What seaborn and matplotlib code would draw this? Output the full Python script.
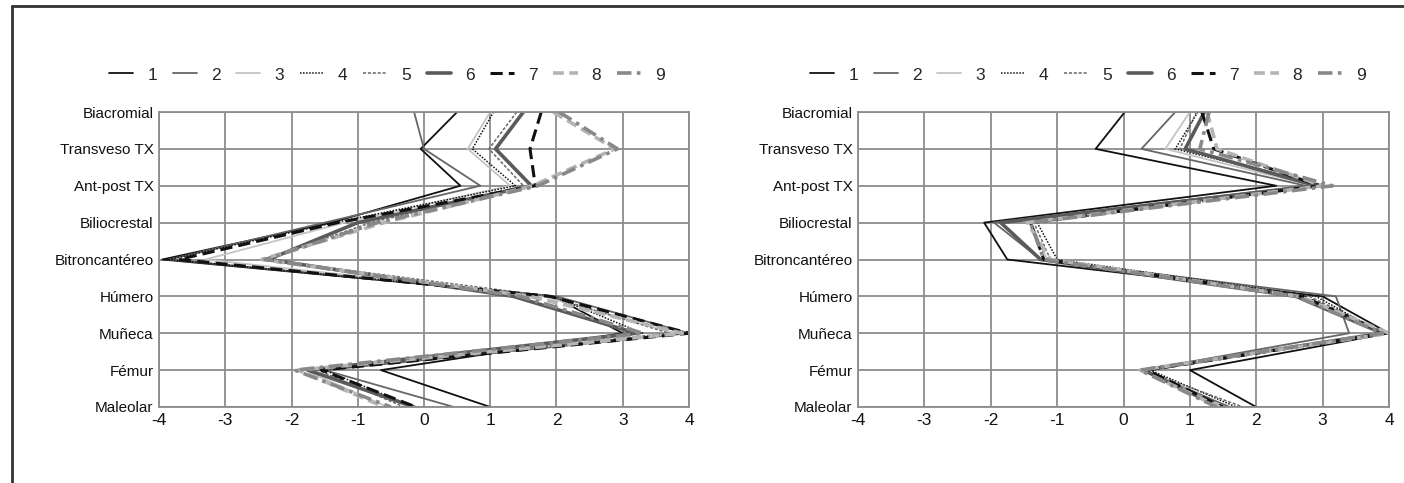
import matplotlib
matplotlib.use("Agg")
import matplotlib.pyplot as plt
import matplotlib.lines as mlines
import numpy as np
import pandas as pd
import seaborn as sns

# Body measurements (rows, top to bottom)
measures = ["Biacromial", "Transveso TX", "Ant-post TX", "Biliocrestal",
            "Bitroncantéreo", "Húmero", "Muñeca", "Fémur", "Maleolar"]
series_names = ["1", "2", "3", "4", "5", "6", "7", "8", "9"]
x_ticks = [-4, -3, -2, -1, 0, 1, 2, 3, 4]

# Left panel: values per series, one value per measurement
left_1 = [0.5, -0.05, 0.55, -1.4, -3.95, 1.95, 3.0, -0.65, 1.0]
left_2 = [-0.15, 0.0, 0.85, -1.5, -3.85, 2.0, 4.0, -1.5, 0.45]
left_3 = [1.0, 0.66, 1.3, -1.2, -3.3, 1.8, 3.8, -1.8, -0.55]
left_4 = [1.05, 0.73, 1.38, -1.35, -3.85, 1.95, 3.3, -1.5, -0.15]
left_5 = [1.4, 0.98, 1.5, -0.8, -2.4, 1.9, 3.7, -1.6, -0.3]
left_6 = [1.5, 1.08, 1.62, -1.0, -2.35, 1.35, 3.2, -1.75, -0.15]
left_7 = [1.77, 1.6, 1.68, -1.3, -3.7, 1.9, 4.0, -1.55, -0.12]
left_8 = [1.95, 2.88, 1.64, -0.6, -2.45, 1.6, 3.9, -1.9, -0.6]
left_9 = [2.04, 2.92, 1.72, -0.7, -2.4, 1.45, 3.3, -1.95, -0.5]

# Right panel
right_1 = [0.02, -0.42, 2.3, -2.1, -1.75, 3.0, 4.0, 1.0, 2.0]
right_2 = [0.78, 0.27, 2.75, -1.95, -1.25, 3.2, 3.4, 0.3, 1.6]
right_3 = [1.0, 0.63, 2.85, -1.4, -1.15, 2.7, 3.95, 0.35, 1.5]
right_4 = [1.12, 0.78, 3.0, -1.3, -1.0, 2.9, 3.9, 0.4, 1.7]
right_5 = [1.1, 0.85, 3.05, -1.35, -1.1, 2.8, 3.95, 0.3, 1.8]
right_6 = [1.22, 0.93, 2.9, -1.85, -1.25, 2.6, 3.9, 0.3, 1.45]
right_7 = [1.18, 1.36, 2.95, -1.4, -1.2, 2.7, 3.95, 0.35, 1.5]
right_8 = [1.26, 1.41, 3.0, -1.45, -1.1, 2.65, 4.0, 0.25, 1.45]
right_9 = [1.29, 1.15, 3.15, -1.4, -1.2, 2.6, 3.9, 0.25, 1.4]

left_values = [left_1, left_2, left_3, left_4, left_5, left_6, left_7, left_8, left_9]
right_values = [right_1, right_2, right_3, right_4, right_5, right_6, right_7, right_8, right_9]

# Line appearance for each series: (color, linewidth, dash pattern)
styles = {
    "1": ("#111111", 1.3, ""),
    "2": ("#666666", 1.3, ""),
    "3": ("#c4c4c4", 1.3, ""),
    "4": ("#111111", 1.1, (1, 1)),
    "5": ("#666666", 1.1, (2, 1.2)),
    "6": ("#5a5a5a", 2.6, ""),
    "7": ("#111111", 2.2, (4, 2)),
    "8": ("#b4b4b4", 2.6, (3, 1.5)),
    "9": ("#888888", 2.6, (4, 1.5, 1, 1.5)),
}


def long_frame(values):
    rows = []
    for name, vals in zip(series_names, values):
        for pos, v in enumerate(vals):
            rows.append({"serie": name, "pos": pos, "valor": v})
    return pd.DataFrame(rows)


sns.set_theme(style="white")
plt.rcParams["font.family"] = ["Liberation Sans", "DejaVu Sans"]
plt.rcParams["font.size"] = 11

fig = plt.figure(figsize=(14.04, 4.83), dpi=100)

panel_boxes = [
    [159 / 1404, 1 - 407 / 483, 530 / 1404, 295 / 483],
    [858 / 1404, 1 - 407 / 483, 531 / 1404, 295 / 483],
]
legend_centers = [387 / 1404, 1088 / 1404]

for box, values, lc in zip(panel_boxes, [left_values, right_values], legend_centers):
    ax = fig.add_axes(box)
    df = long_frame(values)
    for name in series_names:
        color, lw, dash = styles[name]
        sub = df[df["serie"] == name]
        sns.lineplot(data=sub, x="valor", y="pos", orient="y", sort=False,
                     color=color, linewidth=lw, ax=ax, legend=False,
                     estimator=None)
        line = ax.lines[-1]
        if dash:
            line.set_dashes(dash)
    ax.set_xlim(-4, 4)
    ax.set_ylim(len(measures) - 1, 0)
    ax.set_xticks(x_ticks)
    ax.set_xticklabels([str(t) for t in x_ticks])
    ax.set_yticks(range(len(measures)))
    ax.set_yticklabels(measures)
    ax.set_xlabel("")
    ax.set_ylabel("")
    ax.grid(True, color="#8c8c8c", linewidth=1.3)
    ax.set_axisbelow(True)
    for sp in ax.spines.values():
        sp.set_color("#8c8c8c")
        sp.set_linewidth(1.3)
    ax.tick_params(axis="y", length=0, labelsize=11, colors="#111111", pad=4)
    ax.tick_params(axis="x", length=0, labelsize=12.5, colors="#111111", pad=4)

    handles = []
    for name in series_names:
        color, lw, dash = styles[name]
        h = mlines.Line2D([], [], color=color, linewidth=lw)
        if dash:
            h.set_dashes(dash)
        handles.append(h)
    fig.legend(handles, series_names, loc="center", ncol=9,
               bbox_to_anchor=(lc, 1 - 75 / 483), frameon=False,
               handlelength=1.4, handletextpad=0.8, columnspacing=0.9,
               fontsize=12.5)

# Frame lines along the top and left edges
fig.add_artist(mlines.Line2D([12 / 1404, 1], [1 - 6 / 483, 1 - 6 / 483],
                             transform=fig.transFigure, color="#333333", linewidth=2))
fig.add_artist(mlines.Line2D([12 / 1404, 12 / 1404], [0, 1 - 6 / 483],
                             transform=fig.transFigure, color="#333333", linewidth=2))

fig.savefig("out.png", dpi=100)
